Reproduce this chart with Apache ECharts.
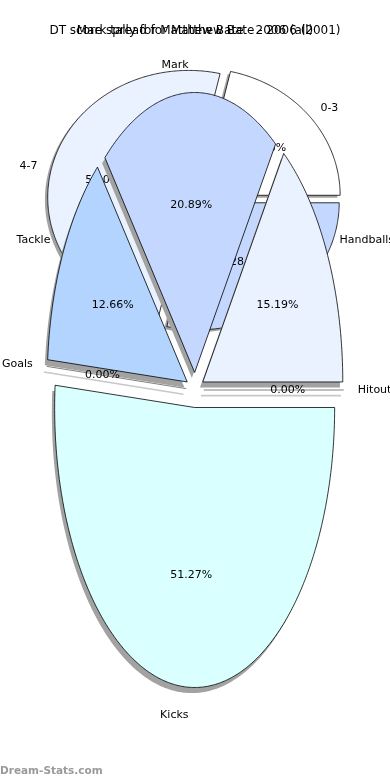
<!DOCTYPE html>
<html>
<head>
<meta charset="utf-8">
<script src="https://cdn.jsdelivr.net/npm/echarts@6/dist/echarts.min.js"></script>
<style>html,body{margin:0;padding:0;background:#fff}#c{width:390px;height:780px}</style>
</head>
<body>
<div id="c"></div>
<script>
// ---- data ----
const titleA = 'Mark tally for Matthew Bate - 2006 (all)';
const titleB = 'DT score spread for Matthew Bate - 2006 (2001)';
const backCategories = ['0-3', '4-7', '8-11'];
const backValues = [3, 7, 4];
const backColors = ['#ffffff', '#eaf2ff', '#c4d8ff'];
const frontCategories = ['Hitout', 'Handballs', 'Mark', 'Tackle', 'Goals', 'Kicks'];
const frontValues = [0, 24, 33, 20, 0, 81];
const frontColors = ['#ffffff', '#eaf2ff', '#c4d8ff', '#b3d4ff', '#dddddd', '#d9ffff'];
const watermark = 'Dream-Stats.com';

// ---- layout ----
const BACK = {cx: 194.5, cy: 198.6, rx: 141, ry: 127, explode: 0.042, sdx: -2.8, sdy: 2.5};
const FRONT = {cx: 195, cy: 390, rx: 140, ry: 280, explode: 0.0625, sdx: -2.8, sdy: 5.6};
const FONT = 'DejaVu Sans';
const D2R = Math.PI / 180;

function geoms(values, geo) {
  const total = values.reduce((a, b) => a + b, 0);
  let acc = 0;
  return values.map(v => {
    const a0 = acc / total * 360; acc += v; const a1 = acc / total * 360;
    const mid = (a0 + a1) / 2 * D2R;
    return {a0, a1, mid, pct: v / total * 100,
      ox: geo.explode * geo.rx * Math.cos(mid), oy: -geo.explode * geo.ry * Math.sin(mid)};
  });
}
function pts(geo, g, dx, dy) {
  const x0 = geo.cx + g.ox + dx, y0 = geo.cy + g.oy + dy;
  const p = [[x0, y0]];
  const n = Math.max(1, Math.ceil((g.a1 - g.a0) / 0.5));
  for (let i = 0; i <= n; i++) {
    const t = (g.a0 + (g.a1 - g.a0) * i / n) * D2R;
    p.push([x0 + geo.rx * Math.cos(t), y0 - geo.ry * Math.sin(t)]);
  }
  return p;
}

function series(values, cats, colors, geo, kind, z) {
  const G = geoms(values, geo);
  return {
    type: 'custom', coordinateSystem: 'none', silent: true, z: z, animation: false,
    data: values.map((v, i) => [v, i]),
    renderItem: function (params, api) {
      const i = params.dataIndex, g = G[i];
      const zero = api.value(0) === 0;
      if (kind === 'shadow') {
        const p = pts(geo, g, geo.sdx, geo.sdy);
        if (zero) return {type: 'polyline', shape: {points: p}, style: {stroke: '#c8c8c8', lineWidth: 1.6, fill: null}};
        return {type: 'polygon', shape: {points: p}, style: {fill: '#a2a2a2', stroke: null}};
      }
      if (kind === 'wedge') {
        const p = pts(geo, g, 0, 0);
        if (zero) return {type: 'polyline', shape: {points: p}, style: {stroke: '#808080', lineWidth: 1, fill: null}};
        return {type: 'polygon', shape: {points: p}, style: {fill: colors[i], stroke: '#000', lineWidth: 0.8, lineJoin: 'miter'}};
      }
      const c = Math.cos(g.mid), s = Math.sin(g.mid);
      const lx = geo.cx + geo.rx * (1.1 + geo.explode) * c;
      const ly = geo.cy - geo.ry * (1.1 + geo.explode) * s;
      const px = geo.cx + g.ox + 0.6 * geo.rx * c;
      const py = geo.cy + g.oy - 0.6 * geo.ry * s;
      return {type: 'group', children: [
        {type: 'text', x: lx, y: ly, style: {text: cats[i], fill: '#000', font: '11px "' + FONT + '"',
          align: c > 0 ? 'left' : 'right', verticalAlign: 'middle'}},
        {type: 'text', x: px, y: py, style: {text: g.pct.toFixed(2) + '%', fill: '#000', font: '11px "' + FONT + '"',
          align: 'center', verticalAlign: 'middle'}}
      ]};
    }
  };
}

const chart = echarts.init(document.getElementById('c'), null, {renderer: 'canvas'});
chart.setOption({
  backgroundColor: '#fff',
  animation: false,
  title: [
    {text: titleA, left: 'center', top: 20, textStyle: {fontFamily: FONT, fontSize: 12, fontWeight: 'normal', color: '#000'}},
    {text: titleB, left: 'center', top: 20, textStyle: {fontFamily: FONT, fontSize: 12, fontWeight: 'normal', color: '#000'}}
  ],
  graphic: [{type: 'text', left: 0, bottom: 3, style: {text: watermark, fill: '#9a9a9a', font: 'bold 10.5px "' + FONT + '"'}}],
  series: [
    series(backValues, backCategories, backColors, BACK, 'shadow', 1),
    series(backValues, backCategories, backColors, BACK, 'wedge', 2),
    series(backValues, backCategories, backColors, BACK, 'text', 3),
    series(frontValues, frontCategories, frontColors, FRONT, 'shadow', 4),
    series(frontValues, frontCategories, frontColors, FRONT, 'wedge', 5),
    series(frontValues, frontCategories, frontColors, FRONT, 'text', 6)
  ]
});
</script>
</body>
</html>
